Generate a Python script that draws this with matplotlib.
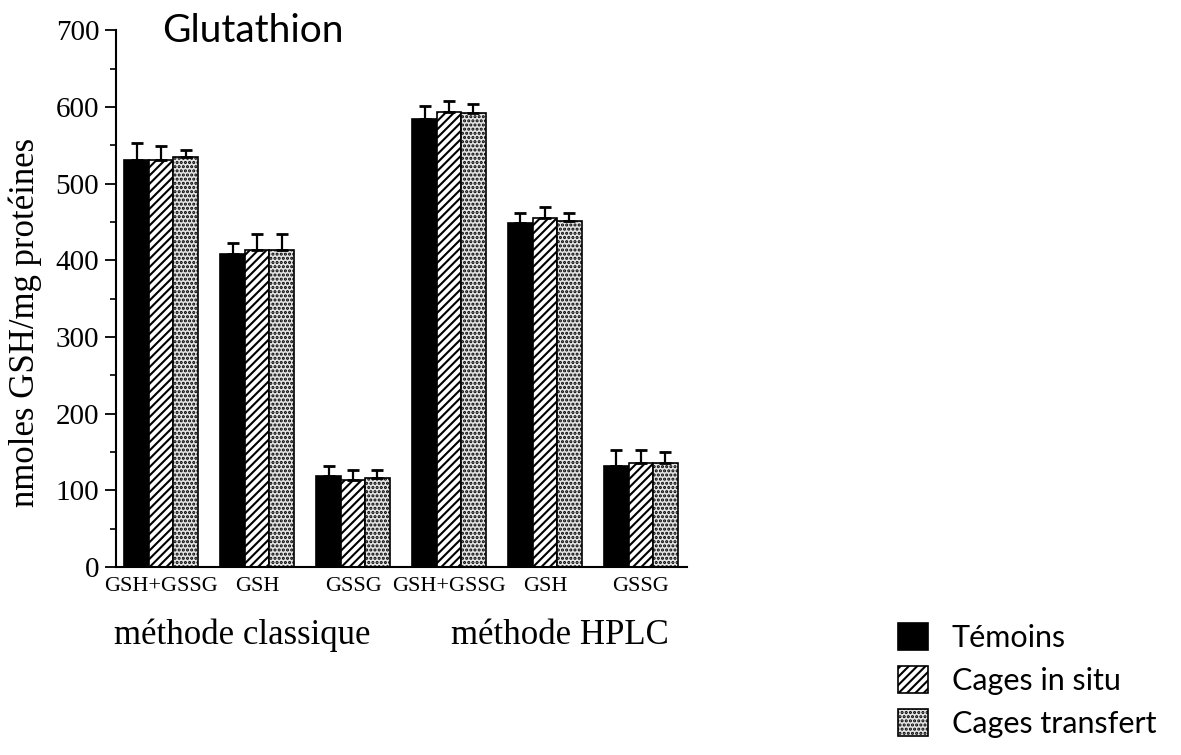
import matplotlib.pyplot as plt
import numpy as np
from matplotlib.patches import Patch

plt.rcParams['hatch.linewidth'] = 1.5

# data
categories = ['GSH+GSSG', 'GSH', 'GSSG', 'GSH+GSSG', 'GSH', 'GSSG']
methods = ['méthode classique', 'méthode HPLC']
series = ['Témoins', 'Cages in situ', 'Cages transfert']

temoins = [531, 408, 119, 584, 448, 132]
temoins_err = [22, 15, 13, 17, 14, 20]
insitu = [531, 413, 113, 593, 455, 135]
insitu_err = [18, 21, 14, 15, 14, 17]
transfert = [535, 414, 116, 592, 451, 136]
transfert_err = [9, 20, 11, 12, 11, 14]

serif = 'Liberation Serif'
sans = 'Lato'

fig = plt.figure(figsize=(11.81, 7.55), dpi=100)
ax = fig.add_axes([0.0982, 0.249, 0.4835, 0.711])

x = np.arange(len(categories))
w = 0.255
styles = [dict(facecolor='black', hatch=None),
          dict(facecolor='white', hatch='////'),
          dict(facecolor='#e4e4e4', hatch='....')]
vals = [temoins, insitu, transfert]
errs = [temoins_err, insitu_err, transfert_err]

for i in range(3):
    ax.bar(x + (i - 1) * w, vals[i], w, edgecolor='black', linewidth=1.2,
           label=series[i], **styles[i])
    ax.errorbar(x + (i - 1) * w, vals[i], yerr=[np.zeros(6), errs[i]], fmt='none',
                ecolor='black', elinewidth=1.6, capsize=4.5, capthick=2)

ax.set_xlim(-0.47, 5.48)
ax.set_ylim(0, 700)
ax.spines['top'].set_visible(False)
ax.spines['right'].set_visible(False)
ax.spines['left'].set_linewidth(1.5)
ax.spines['bottom'].set_linewidth(1.5)

ax.set_yticks(np.arange(0, 701, 100))
ax.set_yticks(np.arange(50, 700, 100), minor=True)
ax.tick_params(axis='y', which='major', length=8, width=1.3, direction='out', pad=4)
ax.tick_params(axis='y', which='minor', length=4, width=1.2, direction='out')
for lab in ax.get_yticklabels():
    lab.set_fontfamily(serif)
    lab.set_fontsize(21)

ax.set_xticks(x)
ax.set_xticklabels(categories, fontfamily=serif, fontsize=16)
ax.tick_params(axis='x', length=0, pad=7)

# method labels under each block of three groups
shifts = [-0.15, 0.16]
for k, m in enumerate(methods):
    xc = x[3 * k:3 * k + 3].mean() + shifts[k]
    ax.text(xc, -0.127, m, transform=ax.get_xaxis_transform(), ha='center', va='center',
            fontfamily=serif, fontsize=25)

fig.text(25 / 1181, 1 - 322 / 755, 'nmoles GSH/mg protéines', rotation=90, ha='center',
         va='center', fontfamily=serif, fontsize=25)
fig.text(162 / 1181, 1 - 42 / 755, 'Glutathion', ha='left', va='baseline',
         fontfamily=sans, fontsize=28)

handles = [Patch(edgecolor='black', linewidth=1.2, **s) for s in styles]
fig.legend(handles, series, loc='upper left', bbox_to_anchor=(898 / 1181, 1 - 623 / 755),
           frameon=False, prop={'family': sans, 'size': 22}, handlelength=0.98,
           handleheight=0.98, handletextpad=0.78, labelspacing=0.46, borderpad=0,
           borderaxespad=0)

plt.savefig('out.png', dpi=100)
